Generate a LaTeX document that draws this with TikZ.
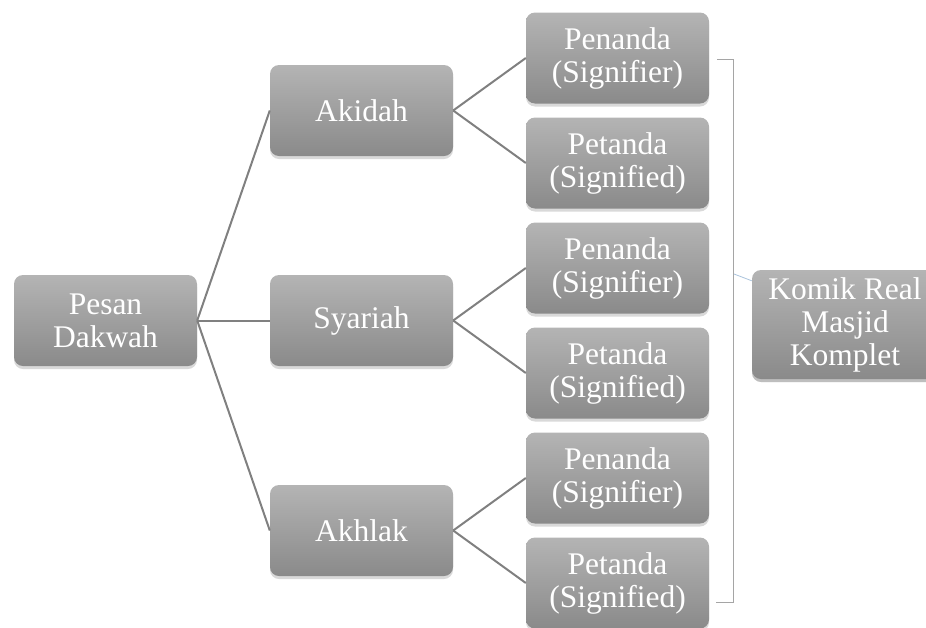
\documentclass[tikz,border=0pt]{standalone}
\usepackage{fontspec}
\setmainfont{Liberation Serif}
\usetikzlibrary{calc}
\usetikzlibrary{positioning}
\usetikzlibrary{shadows}
\definecolor{boxtop}{RGB}{180,180,180}
\definecolor{boxbot}{RGB}{138,138,138}
\definecolor{linkgray}{RGB}{128,128,128}
\definecolor{bracketgray}{RGB}{165,165,165}
\definecolor{tickblue}{RGB}{170,195,220}
\tikzset{
  box/.style={rectangle, rounded corners=9pt, top color=boxtop, bottom color=boxbot,
    draw=none, text=white, align=center, inner sep=0pt,
    minimum width=183pt, minimum height=91pt,
    font=\fontsize{31.5}{33}\selectfont,
    drop shadow={opacity=0.3, shadow xshift=0pt, shadow yshift=-3pt}},
  link/.style={draw=linkgray, line width=2pt},
}

\begin{document}
\begin{tikzpicture}[x=1pt,y=1pt,
  grow=right,
  level distance=256pt,
  level 1/.style={sibling distance=210pt},
  level 2/.style={sibling distance=105pt},
  every node/.style={box},
  edge from parent/.style={link},
  edge from parent path={(\tikzparentnode.east) -- (\tikzchildnode.west)},
  ]
  \useasboundingbox (0,0) rectangle (926,-627);

  \node (pesan) at (105.5,-320.5) {Pesan\\Dakwah}
  child {
    % akhlak
    node (akhlak) {Akhlak}
    child {
      node (akhlak-sd) {Petanda\\(Signified)}
    }
    child {
      node (akhlak-sr) {Penanda\\(Signifier)}
    }
  }
  child {
    % syariah
    node (syariah) {Syariah}
    child {
      node (syariah-sd) {Petanda\\(Signified)}
    }
    child {
      node (syariah-sr) {Penanda\\(Signifier)}
    }
  }
  child {
    % akidah
    node (akidah) {Akidah}
    child {
      node (akidah-sd) {Petanda\\(Signified)}
    }
    child {
      node (akidah-sr) {Penanda\\(Signifier)}
    }
  }
  ;

  \node[box, minimum width=186pt, minimum height=109pt] (komik) at (845,-324.5)
    {Komik Real\\Masjid\\Komplet};

  % bracket
  \coordinate (brtop) at (717,-59);
  \coordinate (brbot) at (716,-602);
  \coordinate (brmid) at (734,-274);
  \draw[bracketgray, line width=1pt] (brtop) -| (733,-602) -- (brbot);
  \draw[tickblue, line width=0.8pt] (brmid) -- ($(komik.north west)+(0,-11)$);
\end{tikzpicture}
\end{document}
